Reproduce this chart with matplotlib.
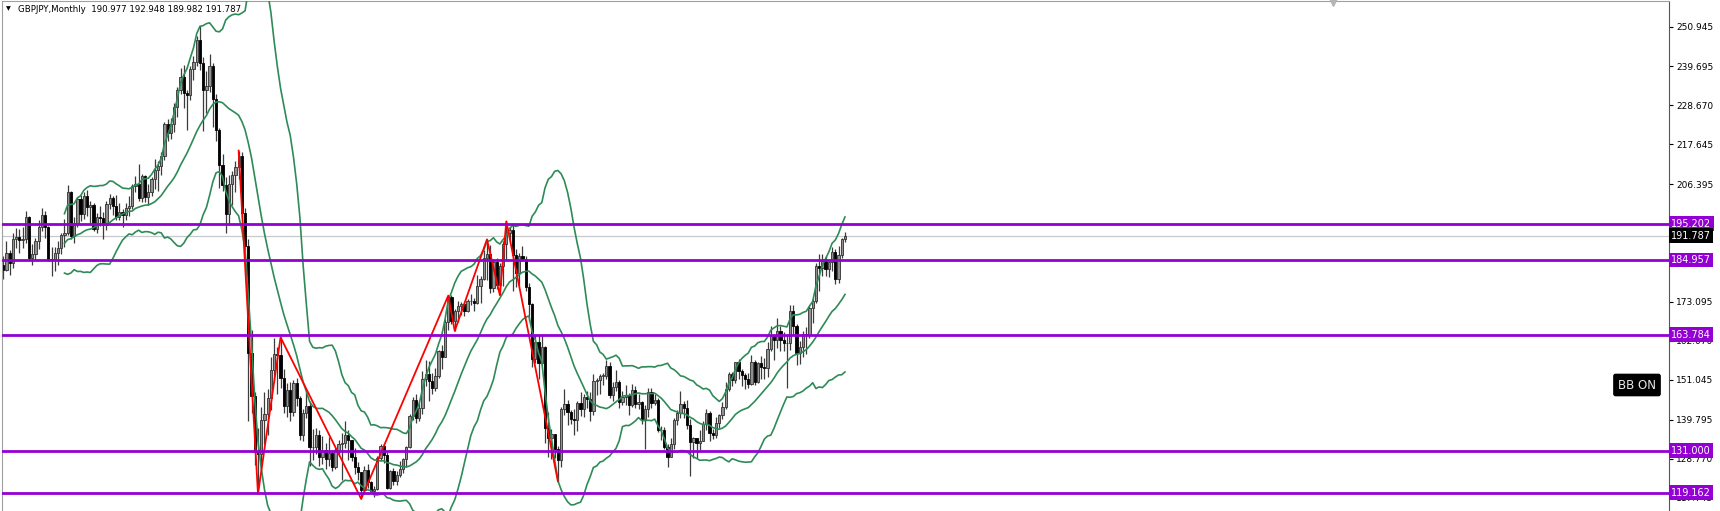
import matplotlib
matplotlib.use('Agg')
import numpy as np
import pandas as pd
import matplotlib.pyplot as plt
import matplotlib.transforms as mtransforms

# GBPJPY, monthly bars, Jun 2002 .. Mar 2024
first_open = 183.5
closes = [
    182.2, 187.0, 184.0, 191.0, 191.5, 190.6, 191.0,  # 2002 (Jun-Dec)
    197.0, 185.6, 186.6, 190.2, 194.4, 197.6, 194.2, 185.2, 185.1, 187.0, 188.3, 191.9,  # 2003
    192.7, 204.2, 191.7, 195.4, 202.2, 197.9, 203.1, 200.0, 200.6, 193.6, 197.0, 196.8,  # 2004
    194.9, 200.8, 202.6, 200.2, 197.1, 198.5, 197.8, 199.8, 200.3, 205.9, 206.5, 202.6,  # 2005
    208.6, 202.7, 204.2, 208.0, 210.4, 211.6, 214.5, 223.5, 220.9, 223.3, 228.1, 233.0,  # 2006
    236.6, 232.1, 231.7, 239.0, 241.0, 247.3, 240.8, 233.0, 234.2, 239.8, 230.4, 221.7,  # 2007
    211.7, 206.3, 197.9, 206.5, 208.9, 211.4, 214.4, 198.2, 188.8, 158.6, 146.6, 130.7,  # 2008
    130.2, 139.6, 141.5, 145.9, 153.9, 158.4, 158.2, 151.6, 143.7, 148.3, 142.1, 150.2,  # 2009
    145.8, 135.4, 141.8, 143.8, 132.0, 132.1, 135.6, 129.2, 131.1, 128.8, 130.3, 126.5,  # 2010
    131.2, 132.9, 133.2, 135.6, 134.0, 129.2, 126.4, 125.1, 120.0, 125.7, 122.2, 119.6,  # 2011
    120.2, 129.1, 132.5, 129.9, 120.6, 125.2, 122.5, 124.3, 125.9, 128.7, 132.2, 140.9,  # 2012
    145.4, 140.4, 143.0, 151.3, 152.6, 150.8, 148.9, 152.2, 159.1, 157.6, 167.5, 174.4,  # 2013
    167.7, 170.4, 172.0, 172.5, 170.6, 173.3, 173.5, 172.8, 177.7, 179.7, 185.6, 186.7,  # 2014
    177.0, 184.5, 178.0, 183.3, 189.6, 192.6, 193.4, 186.4, 181.4, 186.2, 185.3, 177.2,  # 2015
    172.4, 157.0, 161.8, 155.7, 160.3, 137.5, 134.6, 135.8, 131.4, 128.3, 142.9, 144.3,  # 2016
    141.9, 139.9, 139.7, 144.4, 142.8, 146.1, 145.6, 142.2, 150.8, 150.9, 152.2, 152.2,  # 2017
    155.0, 146.8, 149.1, 150.5, 144.7, 146.1, 146.9, 143.9, 148.2, 144.1, 144.8, 139.9,  # 2018
    142.8, 147.7, 144.5, 145.3, 136.8, 136.9, 132.2, 129.3, 132.8, 139.8, 141.6, 144.1,  # 2019
    143.1, 138.3, 133.5, 134.6, 133.1, 133.8, 138.7, 141.6, 136.1, 135.5, 139.0, 141.1,  # 2020
    143.4, 148.5, 152.6, 151.0, 156.0, 153.7, 152.5, 151.3, 150.0, 156.0, 150.6, 155.7,  # 2021
    154.7, 154.4, 159.9, 163.4, 162.2, 165.0, 162.2, 161.4, 161.6, 170.6, 166.4, 158.6,  # 2022
    160.3, 163.9, 163.8, 171.4, 173.3, 183.3, 182.6, 184.6, 182.3, 184.4, 187.1, 179.6,  # 2023
    186.4, 190.977, 191.787,  # 2024 (Jan-Mar)
]
highs = [
    186.0, 190.4, 187.8, 192.6, 193.9, 193.6, 194.2,
    198.8, 197.5, 189.6, 191.2, 196.4, 199.8, 198.8, 194.5, 188.6, 188.6, 190.2, 192.7,
    196.5, 206.2, 204.5, 197.0, 202.9, 203.3, 204.2, 204.8, 201.7, 201.2, 198.3, 200.3,
    198.6, 201.7, 203.6, 203.0, 203.4, 201.0, 199.4, 201.2, 203.0, 206.5, 208.8, 212.0,
    209.4, 209.0, 206.4, 208.5, 213.5, 213.0, 215.4, 224.0, 224.8, 225.2, 229.5, 234.0,
    239.2, 240.0, 233.0, 239.8, 242.6, 248.2, 251.1, 242.3, 238.5, 243.1, 240.8, 232.0,
    222.4, 215.0, 208.5, 208.9, 210.2, 213.0, 215.9, 215.6, 199.8, 191.0, 165.2, 147.5,
    137.4, 143.5, 147.6, 148.5, 157.5, 163.0, 160.5, 163.1, 154.1, 150.3, 150.5, 151.0,
    151.5, 146.5, 142.8, 147.7, 145.0, 137.1, 137.5, 137.0, 135.2, 133.2, 135.0, 131.3,
    131.8, 134.2, 136.0, 139.3, 137.0, 134.0, 131.9, 127.9, 125.1, 126.8, 127.2, 122.6,
    121.0, 129.5, 133.0, 133.0, 130.8, 125.5, 126.0, 125.2, 128.2, 129.1, 132.3, 141.3,
    146.2, 147.2, 145.0, 153.7, 156.8, 156.4, 153.0, 154.5, 159.4, 161.0, 168.3, 174.9,
    175.0, 171.0, 173.5, 173.0, 172.8, 174.0, 175.4, 174.1, 180.7, 180.3, 187.8, 190.8,
    189.3, 185.3, 185.5, 184.0, 190.2, 195.9, 194.4, 195.3, 188.0, 187.0, 188.8, 186.0,
    178.5, 172.8, 163.7, 163.8, 163.7, 160.6, 141.9, 137.3, 135.6, 132.4, 143.3, 148.5,
    145.3, 142.6, 142.9, 145.2, 147.5, 147.2, 147.8, 147.5, 152.8, 151.5, 152.8, 153.0,
    156.6, 156.1, 150.4, 153.9, 151.0, 148.0, 149.7, 147.3, 149.8, 149.2, 147.0, 145.1,
    144.0, 148.8, 148.9, 147.0, 146.0, 138.0, 137.6, 132.8, 134.6, 140.3, 142.5, 147.9,
    145.0, 145.4, 139.9, 135.0, 134.2, 137.0, 139.3, 142.7, 142.3, 137.3, 140.5, 141.5,
    144.9, 150.5, 153.4, 153.4, 156.1, 157.0, 154.2, 153.1, 153.1, 158.2, 156.6, 156.0,
    157.8, 157.3, 161.9, 166.3, 164.0, 168.7, 166.3, 164.6, 163.8, 172.1, 172.2, 167.0,
    162.0, 165.0, 166.0, 172.3, 174.1, 184.0, 186.8, 186.8, 186.0, 184.8, 188.7, 188.0,
    188.9, 191.3, 192.948,
]
lows = [
    179.6, 181.8, 180.7, 182.8, 188.4, 187.0, 188.3,
    189.7, 185.0, 183.5, 185.0, 188.1, 193.2, 191.3, 184.6, 180.4, 181.9, 183.5, 186.8,
    188.6, 192.0, 190.8, 189.7, 194.3, 196.0, 196.5, 197.4, 195.0, 193.2, 192.7, 194.5,
    191.0, 193.5, 199.3, 197.6, 196.3, 196.2, 194.3, 196.4, 197.4, 199.4, 204.1, 201.7,
    201.4, 201.5, 200.6, 203.0, 205.0, 204.5, 209.0, 213.3, 218.5, 219.3, 221.2, 225.5,
    231.9, 228.0, 221.8, 230.3, 235.8, 239.8, 238.8, 221.5, 226.5, 232.5, 222.5, 218.7,
    205.3, 204.5, 192.6, 195.1, 200.5, 204.1, 207.9, 197.0, 187.6, 139.3, 141.7, 126.9,
    118.8, 126.4, 132.8, 135.6, 142.5, 150.5, 147.0, 148.8, 141.8, 140.7, 139.3, 140.8,
    143.8, 134.0, 133.8, 140.4, 126.8, 128.3, 130.2, 126.8, 127.2, 125.8, 126.6, 125.2,
    125.8, 129.5, 122.7, 131.7, 128.4, 128.0, 124.4, 122.8, 117.4, 118.8, 120.5, 119.2,
    117.8, 120.0, 128.3, 127.6, 120.2, 120.2, 121.2, 121.2, 123.6, 124.8, 126.5, 131.8,
    139.8, 138.8, 139.5, 141.4, 149.3, 145.0, 147.0, 148.0, 151.7, 154.1, 157.4, 165.3,
    166.8, 164.9, 167.3, 169.5, 169.0, 170.2, 172.3, 170.5, 172.5, 172.8, 179.3, 179.3,
    175.5, 176.0, 176.8, 175.0, 177.7, 185.0, 190.0, 176.2, 177.2, 177.6, 184.6, 176.3,
    167.6, 154.6, 155.8, 151.3, 155.2, 133.2, 129.3, 128.8, 129.1, 122.4, 126.5, 141.1,
    138.3, 138.6, 135.6, 136.6, 140.9, 140.6, 143.0, 139.3, 141.0, 146.9, 147.0, 149.5,
    151.3, 146.0, 145.1, 147.8, 143.2, 144.0, 144.0, 141.2, 143.3, 143.0, 142.8, 138.6,
    131.5, 140.7, 143.2, 143.9, 136.3, 134.2, 131.5, 126.5, 129.6, 131.5, 138.4, 140.2,
    140.4, 137.1, 124.0, 128.9, 128.9, 131.1, 133.7, 137.0, 133.8, 134.4, 134.5, 137.5,
    140.1, 142.8, 147.8, 149.2, 150.3, 151.2, 149.2, 148.5, 148.9, 149.6, 149.7, 150.3,
    151.3, 151.3, 151.8, 159.2, 156.6, 160.0, 159.2, 159.3, 148.8, 159.6, 164.1, 155.4,
    155.6, 157.5, 158.3, 163.0, 167.1, 172.7, 176.3, 180.3, 180.4, 180.2, 181.9, 178.3,
    178.4, 185.5, 189.982,
]

# zigzag swing points (bar index, 'H' or 'L')
zz_bars = [73, 79, 86, 111, 138, 140, 150, 154, 156, 172]
zz_side = ['H', 'L', 'H', 'L', 'H', 'L', 'H', 'L', 'H', 'L']

level_prices = [195.202, 184.957, 163.784, 131.000, 119.162]
last_price = 191.787
ytick_vals = [250.945, 239.695, 228.670, 217.645, 206.395,
              173.095, 162.070, 151.045, 139.795, 128.770, 117.745]

closes = np.array(closes)
highs = np.array(highs)
lows = np.array(lows)
opens = np.concatenate([[first_open], closes[:-1]])
x = np.arange(len(closes))

W, H = 1720, 511
fig = plt.figure(figsize=(W / 100, H / 100), dpi=100)
ax = fig.add_axes([2 / W, 0, 1667 / W, 510 / H])
ax.set_xlim(-0.372, 516.5)
ax.set_ylim(113.98, 258.21)

# bid line
ax.axhline(last_price, color='#c8c8c8', lw=0.9, zorder=1)

# candles
bull = closes >= opens
ax.vlines(x, lows, highs, color='#3c3c3c', lw=0.9, zorder=2)
body_lo = np.minimum(opens, closes)
body_h = np.maximum(np.abs(closes - opens), 0.2)
ax.bar(x, body_h, bottom=body_lo, width=0.7,
       color=np.where(bull, '#909090', '#000000'),
       edgecolor=np.where(bull, '#303030', '#000000'), linewidth=0.6, zorder=2)

# Bollinger Bands 20, 2
s = pd.Series(closes)
mid = s.rolling(20).mean()
sd = s.rolling(20).std(ddof=0)
for band in (mid, mid + 2 * sd, mid - 2 * sd):
    ax.plot(x, band, color='#2e8b57', lw=1.2, zorder=3)

# zigzag
zz_y = [highs[b] if sd_ == 'H' else lows[b] for b, sd_ in zip(zz_bars, zz_side)]
ax.plot(zz_bars, zz_y, color='#ff0000', lw=1.3, zorder=4)

# horizontal levels
for p in level_prices:
    ax.axhline(p, color='#9400d3', lw=2.0, zorder=5)

# axis styling
ax.yaxis.tick_right()
ax.set_yticks(ytick_vals)
ax.set_yticklabels(['%.3f' % v for v in ytick_vals])
ax.tick_params(axis='y', length=3, width=0.8, pad=2, labelsize=6.5,
               colors='#000000')
ax.set_xticks([])
for side in ('left', 'top'):
    ax.spines[side].set_color('#a0a0a0')
    ax.spines[side].set_linewidth(0.8)
ax.spines['right'].set_color('#555555')
ax.spines['right'].set_linewidth(0.8)
ax.spines['bottom'].set_visible(False)

# price tags on the scale
tag_tr = mtransforms.blended_transform_factory(ax.transAxes, ax.transData)
tag_box = dict(boxstyle='square,pad=0.25', ec='none')
for p in level_prices:
    ax.text(1.0012, p, '%.3f' % p, transform=tag_tr, ha='left', va='center',
            fontsize=7, color='white', zorder=10, clip_on=False,
            bbox=dict(tag_box, fc='#9400d3'))
ax.text(1.0012, last_price, '%.3f' % last_price, transform=tag_tr, ha='left',
        va='center', fontsize=7, color='white', zorder=10, clip_on=False,
        bbox=dict(tag_box, fc='#000000'))

# header
fig.text(6 / W, 1 - 9 / H, '\u25bc', fontsize=4.5, va='center', ha='left',
         color='#000000')
fig.text(18 / W, 1 - 9 / H,
         'GBPJPY,Monthly  190.977 192.948 189.982 191.787',
         fontsize=6.2, va='center', ha='left', color='#000000')

# shift marker
ax.scatter([(1333 - 2) / 1667], [0.998], marker='v', s=30, color='#b4b4b4',
           transform=ax.transAxes, clip_on=False, zorder=6)

# BB ON label
fig.text(1637 / W, 1 - 385 / H, 'BB ON', fontsize=8.5, color='#e8e8e8',
         ha='center', va='center',
         bbox=dict(boxstyle='round,pad=0.35,rounding_size=0.15', fc='#000000',
                   ec='#000000'))

fig.savefig('out.png', dpi=100)
